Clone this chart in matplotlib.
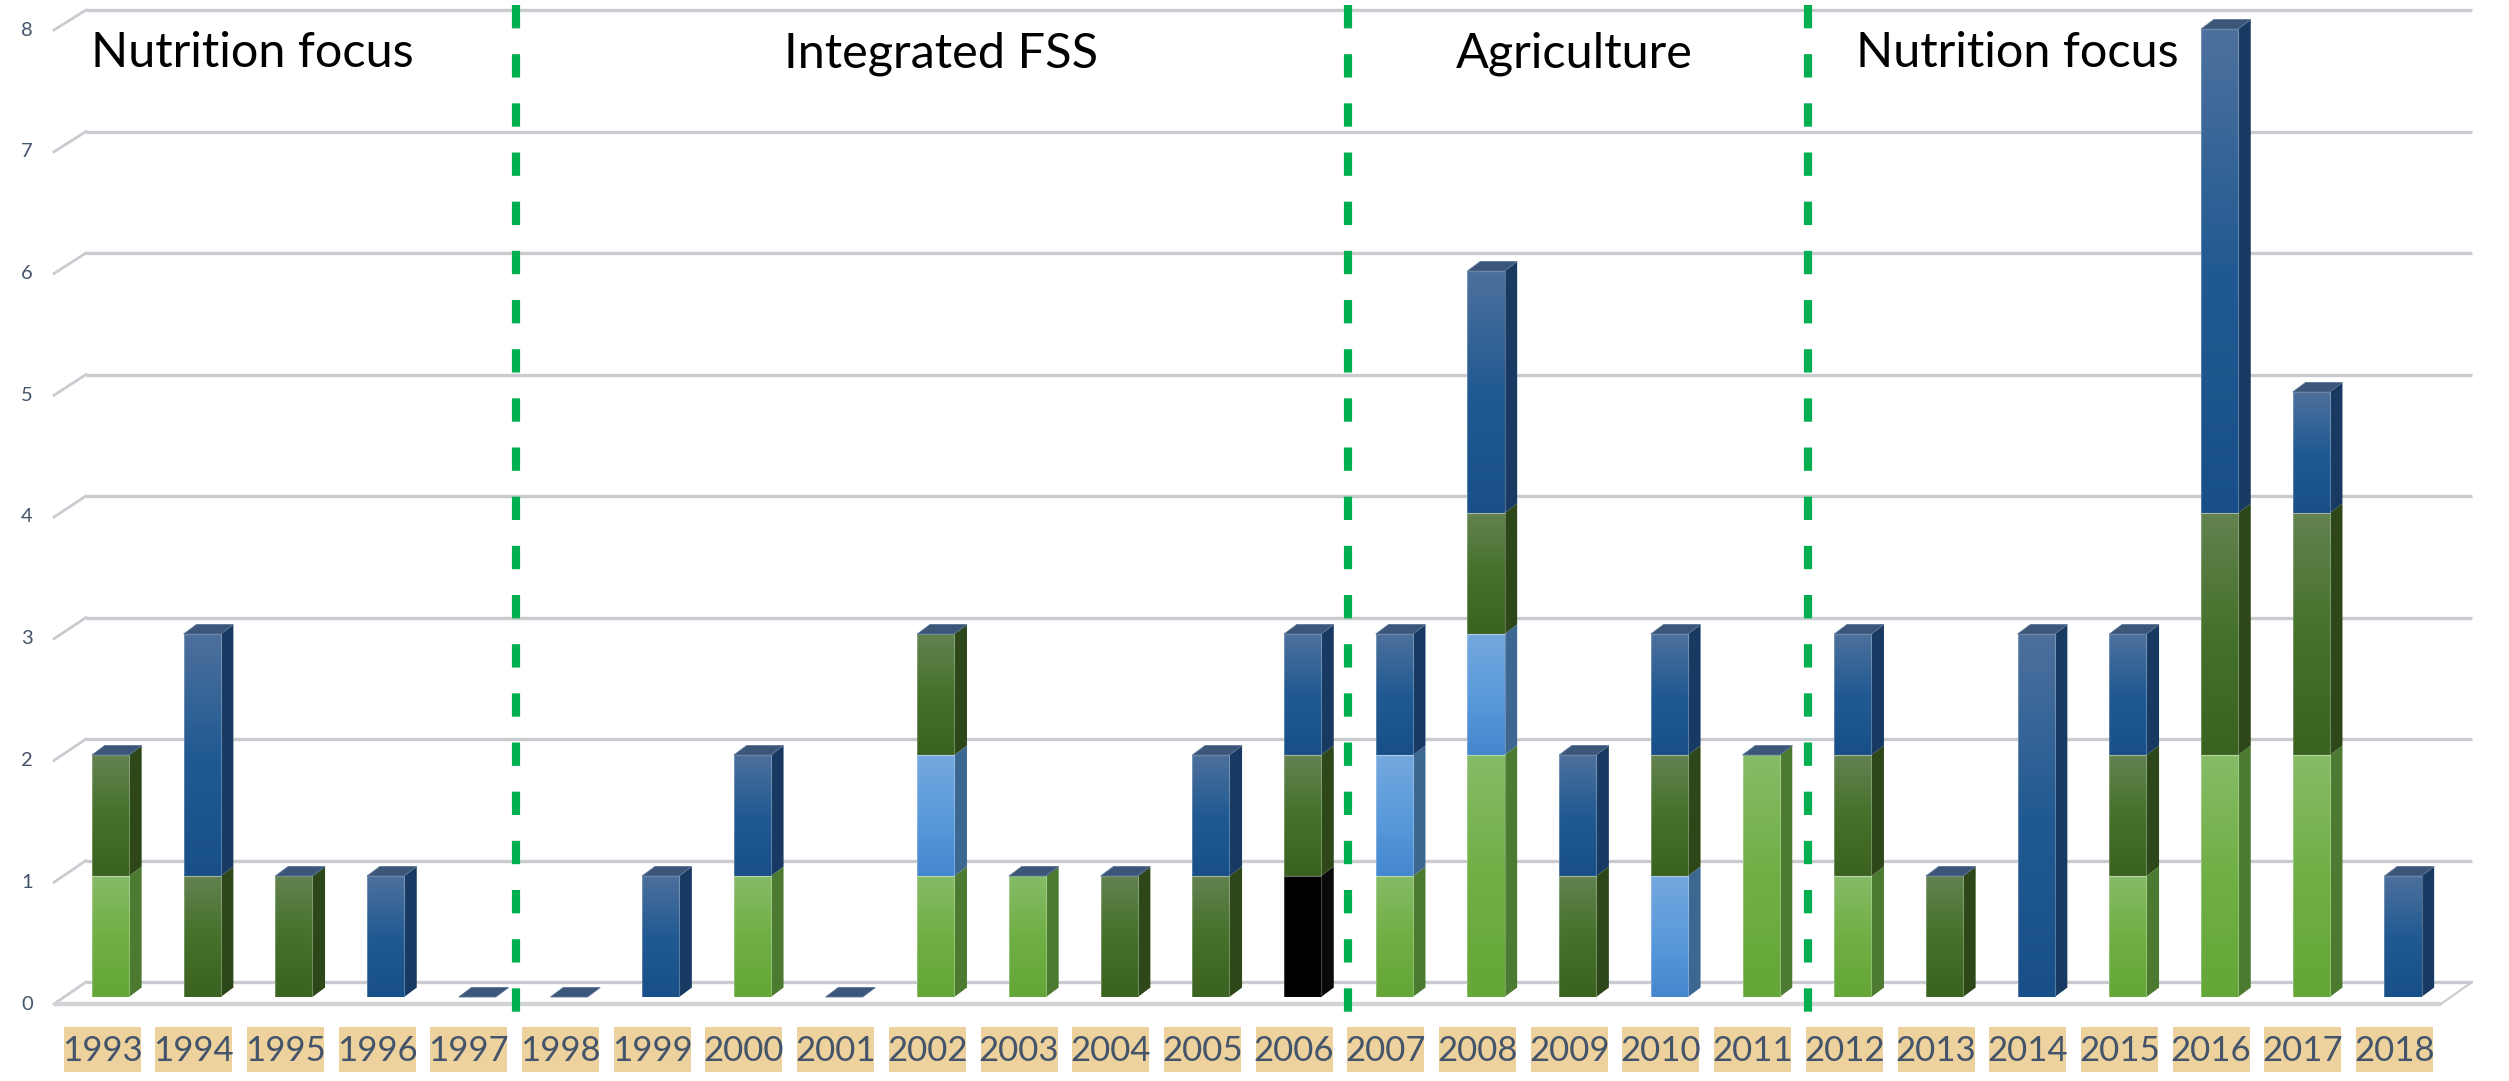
import numpy as np
import matplotlib
matplotlib.use("Agg")
import matplotlib.pyplot as plt
from matplotlib.patches import Polygon, Rectangle
from matplotlib.colors import LinearSegmentedColormap

# ---------------- data ----------------
years = [1993, 1994, 1995, 1996, 1997, 1998, 1999, 2000, 2001, 2002, 2003, 2004, 2005,
         2006, 2007, 2008, 2009, 2010, 2011, 2012, 2013, 2014, 2015, 2016, 2017, 2018]
series_black       = [0, 0, 0, 0, 0, 0, 0, 0, 0, 0, 0, 0, 0, 1, 0, 0, 0, 0, 0, 0, 0, 0, 0, 0, 0, 0]
series_light_green = [1, 0, 0, 0, 0, 0, 0, 1, 0, 1, 1, 0, 0, 0, 1, 2, 0, 0, 2, 1, 0, 0, 1, 2, 2, 0]
series_light_blue  = [0, 0, 0, 0, 0, 0, 0, 0, 0, 1, 0, 0, 0, 0, 1, 1, 0, 1, 0, 0, 0, 0, 0, 0, 0, 0]
series_dark_green  = [1, 1, 1, 0, 0, 0, 0, 0, 0, 1, 0, 1, 1, 1, 0, 1, 1, 1, 0, 1, 1, 0, 1, 2, 2, 0]
series_dark_blue   = [0, 2, 0, 1, 0, 0, 1, 1, 0, 0, 0, 0, 1, 1, 1, 2, 1, 1, 0, 1, 0, 3, 1, 4, 1, 1]
y_ticks = [0, 1, 2, 3, 4, 5, 6, 7, 8]
section_names = ["Nutrition focus", "Integrated FSS", "Agriculture", "Nutrition focus"]

# ---------------- style ----------------
plt.rcParams['font.family'] = ['Lato', 'DejaVu Sans']

W, H = 2509, 1081
fig = plt.figure(figsize=(W / 100, H / 100), dpi=100)
ax = fig.add_axes([0, 0, 1, 1])
ax.axis('off')

# pixel <-> data mapping
X0, SX = 110.5, 91.7     # px of first bar centre, px per category
Y0, SY = 997.0, 121.0    # px (from top) of value 0, px per unit
def px2x(px): return (px - X0) / SX
def py2y(py): return (Y0 - py) / SY
ax.set_xlim(px2x(0), px2x(W))
ax.set_ylim(py2y(H), py2y(0))

x = np.arange(len(years))
half = 0.2018
dx, dy = 0.138, 0.078

# ---------------- floor & gridlines ----------------
grid_c = '#CACBD0'
back_off = 15 / SY
fl_x0, fl_x1 = px2x(54), px2x(2441)
bk_x0, bk_x1 = px2x(86), px2x(2472)
for v in y_ticks:
    yb = v + back_off + v * 0.5 / SY
    yf = v - 7 / SY + v * 0.75 / SY
    ax.plot([bk_x0, bk_x1], [yb, yb], color=grid_c, lw=2.4, zorder=1, solid_capstyle='butt')
    ax.plot([fl_x0, bk_x0], [yf, yb], color=grid_c, lw=2.0, zorder=1)
    ax.text(px2x(27), yf, str(v), ha='center', va='center', fontsize=14.5,
            color='#44546A', zorder=5)
# floor front edge
ax.plot([fl_x0, fl_x1], [-7 / SY, -7 / SY], color='#D3D4D8', lw=3.2, zorder=1,
        solid_capstyle='butt')
ax.plot([fl_x1, bk_x1], [-7 / SY, back_off], color=grid_c, lw=1.5, zorder=1)

# ---------------- bars ----------------
stack = [
    (series_black,       ['#000000', '#000000', '#000000'], '#0A0A0A'),
    (series_light_green, ['#86BB66', '#70AF45', '#64A637'], '#4B7A30'),
    (series_light_blue,  ['#74A8DE', '#5B9BDB', '#4487CF'], '#3C6791'),
    (series_dark_green,  ['#62824F', '#45712B', '#3A6220'], '#2D4719'),
    (series_dark_blue,   ['#4D709D', '#215A92', '#184F88'], '#183A62'),
]
top_c = '#3B5678'
bottom = np.zeros(len(years))
for vals, grad_cols, side_c in stack:
    vals = np.array(vals, dtype=float)
    cmap = LinearSegmentedColormap.from_list('g', [(0, grad_cols[0]), (0.5, grad_cols[1]),
                                                   (1, grad_cols[2])])
    bars = ax.bar(x, vals, width=2 * half, bottom=bottom, color=grad_cols[1],
                  linewidth=0, zorder=3)
    grad = np.linspace(0, 1, 128).reshape(-1, 1)
    for i, (rect, v) in enumerate(zip(bars, vals)):
        if v <= 0:
            continue
        b0, b1 = bottom[i], bottom[i] + v
        im = ax.imshow(grad, cmap=cmap, aspect='auto', zorder=3.1,
                       extent=[x[i] - half, x[i] + half, b0, b1], origin='upper',
                       interpolation='bilinear')
        im.set_clip_path(rect)
        # front outline
        ax.add_patch(Rectangle((x[i] - half, b0), 2 * half, v, fill=False,
                               ec=(1, 1, 1, 0.25), lw=0.8, zorder=3.2))
        # side face
        ax.add_patch(Polygon([(x[i] + half, b0), (x[i] + half + dx, b0 + dy),
                              (x[i] + half + dx, b1 + dy), (x[i] + half, b1)],
                             closed=True, fc=side_c, ec='none', zorder=3))
    bottom = bottom + vals

# top faces (drawn through the stacked totals)
for i, t in enumerate(bottom):
    ax.add_patch(Polygon([(x[i] - half, t), (x[i] + half, t), (x[i] + half + dx, t + dy),
                          (x[i] - half + dx, t + dy)], closed=True, fc=top_c,
                         ec='#5A7396', lw=0.6, zorder=3.3))

# ---------------- section separators ----------------
for bx in [4.42, 13.5, 18.51]:
    ax.plot([bx, bx], [py2y(5), py2y(1036)], color='#00B050', lw=5.9,
            dashes=(2.85, 3.15), solid_capstyle='butt', dash_capstyle='butt', zorder=4)

# ---------------- section labels ----------------
label_px = [252, 941, 1574, 2017]
for name, cx in zip(section_names, label_px):
    ax.text(px2x(cx), py2y(67), name, ha='center', va='baseline', fontsize=35,
            color='black', zorder=5)

# ---------------- x labels ----------------
bw, bh = 77 / SX, 45 / SY
for i, yr in enumerate(years):
    cx = x[i] - 8.5 / SX
    ax.add_patch(Rectangle((cx - bw / 2, py2y(1072)), bw, bh, fc='#EDD29E', ec='none',
                           zorder=2))
    ax.text(cx, py2y(1051), str(yr), ha='center', va='center', fontsize=25,
            color='#44546A', zorder=5)

fig.savefig('out.png', dpi=100, facecolor='white')
